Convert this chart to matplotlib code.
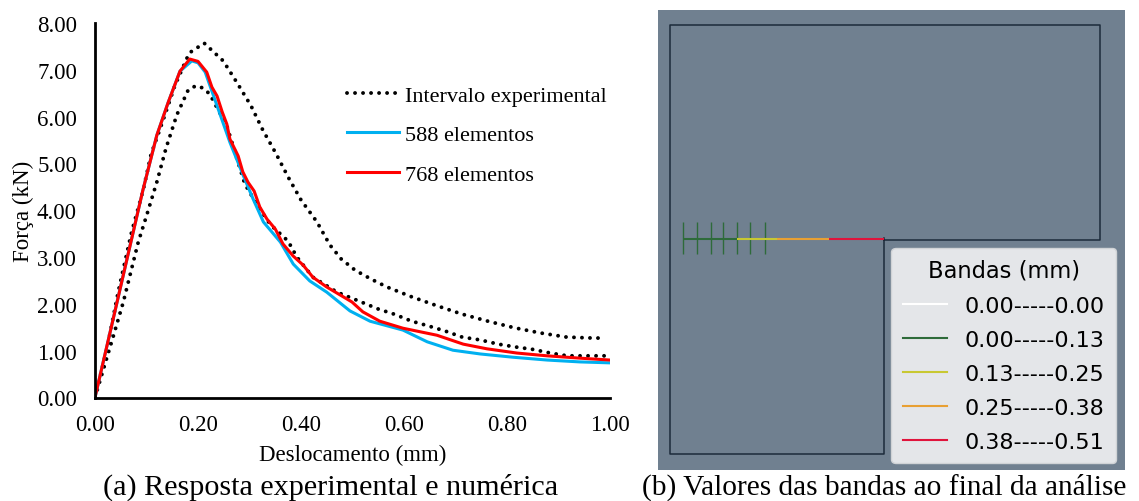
import matplotlib
matplotlib.use('Agg')
import matplotlib.pyplot as plt
import numpy as np

W, H = 1139, 502

# (a) curves
up_x = [0, .023, .045, .071, .094, .109, .133, .155, .183, .212, .249, .276, .303, .326, .351, .375, .40, .431, .456, .478, .505, .536, .567, .615, .664, .713, .763, .814, .864, .916, .967, .99]
up_y = [0, 1.03, 2.25, 3.53, 4.45, 5.2, 5.95, 6.66, 7.36, 7.57, 7.19, 6.72, 6.23, 5.71, 5.22, 4.71, 4.22, 3.75, 3.26, 2.96, 2.72, 2.53, 2.36, 2.15, 1.96, 1.78, 1.63, 1.49, 1.38, 1.29, 1.27, 1.27]
lo_x = [0, .0097, .035, .055, .084, .10, .12, .138, .159, .181, .196, .21, .223, .233, .256, .276, .291, .314, .34, .375, .392, .423, .47, .517, .55, .581, .615, .647, .68, .713, .748, .783, .816, .849, .884, .917, .951, .99]
lo_y = [0, .36, 1.29, 2.04, 3.32, 3.88, 4.6, 5.33, 6.04, 6.57, 6.66, 6.61, 6.48, 6.27, 5.8, 5.09, 4.56, 4.13, 3.7, 3.34, 3.0, 2.57, 2.25, 2.04, 1.89, 1.78, 1.63, 1.53, 1.42, 1.29, 1.23, 1.14, 1.08, 1.03, .95, .89, .89, .89]
e588_x = [0, .041, .068, .093, .12, .142, .165, .188, .2, .214, .23, .262, .288, .307, .327, .36, .385, .417, .45, .495, .534, .598, .645, .695, .748, .812, .878, .942, 1.0]
e588_y = [0, 1.95, 3.24, 4.43, 5.6, 6.3, 6.97, 7.19, 7.15, 6.95, 6.45, 5.45, 4.74, 4.24, 3.75, 3.32, 2.85, 2.49, 2.25, 1.85, 1.63, 1.44, 1.19, 1.01, .93, .86, .80, .76, .74]
e768_x = [0, .041, .068, .093, .12, .142, .165, .184, .2, .217, .227, .237, .247, .256, .262, .278, .287, .297, .309, .32, .334, .35, .365, .385, .404, .423, .45, .499, .52, .553, .598, .664, .715, .761, .819, .878, .942, 1.0]
e768_y = [0, 1.95, 3.24, 4.43, 5.6, 6.3, 6.97, 7.23, 7.18, 6.95, 6.63, 6.44, 6.1, 5.84, 5.52, 5.16, 4.82, 4.6, 4.41, 4.07, 3.81, 3.6, 3.28, 3.02, 2.83, 2.57, 2.36, 2.04, 1.83, 1.63, 1.48, 1.33, 1.14, 1.04, .95, .89, .84, .80]
x_ticks = [0, .2, .4, .6, .8, 1.0]
y_ticks = [0, 1, 2, 3, 4, 5, 6, 7, 8]

# (b) mesh drawing, in panel pixels
outline_x = [884, 884, 670, 670, 1100, 1100, 884]
outline_y = [239, 455, 455, 26, 26, 241, 241]
crack_x = [683, 737, 777, 829, 884]
crack_y = [239.5, 239.5, 239.5, 239.5, 239.5]
crack_ticks = [683, 697, 711, 723, 737, 750, 765]
band_labels = ['0.00-----0.00', '0.00-----0.13', '0.13-----0.25', '0.25-----0.38', '0.38-----0.51']
band_colors = ['white', '#2e6b3a', '#c8c832', '#e8a033', '#e0143c']

fig = plt.figure(figsize=(W / 100, H / 100), dpi=100)
serif = 'Liberation Serif'
fs = 16.5

ax = fig.add_axes([95 / W, 1 - 398.5 / H, 515 / W, 374.5 / H])
dots = dict(color='black', lw=2.8, ls=(0, (0.01, 2.05)), dash_capstyle='round')
ax.plot(up_x, up_y, label='Intervalo experimental', **dots)
ax.plot(lo_x, lo_y, **dots)
ax.plot(e588_x, e588_y, color='#00b0f0', lw=2.2, label='588 elementos')
ax.plot(e768_x, e768_y, color='#ff0000', lw=2.2, label='768 elementos')
ax.set_xlim(0, 1)
ax.set_ylim(0, 8)
ax.set_xticks(x_ticks, [f'{v:.2f}' for v in x_ticks], family=serif, fontsize=fs)
ax.set_yticks(y_ticks, [f'{v:.2f}' for v in y_ticks], family=serif, fontsize=fs)
ax.tick_params(axis='x', length=0, pad=12)
ax.tick_params(axis='y', length=0, pad=13)
ax.set_xlabel('Deslocamento (mm)', family=serif, fontsize=fs, labelpad=6)
ax.set_ylabel('Força (kN)', family=serif, fontsize=fs, labelpad=2)
for s in ['top', 'right']:
    ax.spines[s].set_visible(False)
for s in ['left', 'bottom']:
    ax.spines[s].set_linewidth(2)
ax.legend(loc='upper left', bbox_to_anchor=(0.489, 0.834), frameon=False, prop={'family': serif, 'size': 16},
          handlelength=2.34, handletextpad=0.27, labelspacing=0.85, borderpad=0, borderaxespad=0)

# panel b
bx = fig.add_axes([658 / W, 1 - 471 / H, 467 / W, 460 / H])
bx.set_facecolor('#708090')
bx.set_xlim(658, 1125)
bx.set_ylim(471, 11)
bx.set_xticks([])
bx.set_yticks([])
for s in bx.spines.values():
    s.set_visible(False)
bx.plot(outline_x, outline_y, color='#1c2b3a', lw=1.1)
bx.vlines(crack_ticks, 223, 255, color=band_colors[1], lw=1)
for i in range(4):
    bx.plot(crack_x[i:i + 2], crack_y[i:i + 2], color=band_colors[i + 1], lw=1.5, solid_capstyle='butt')
for lab, col in zip(band_labels, band_colors):
    bx.plot([], [], color=col, lw=1.5, label=lab)
leg = bx.legend(title='Bandas (mm)', loc='lower right', bbox_to_anchor=(458 / 467, 7 / 460),
                fontsize=16, title_fontsize=16.3, facecolor='#e4e6e9', edgecolor='#d0d3d6', framealpha=1,
                borderaxespad=0, borderpad=0.5, handlelength=2.0, labelspacing=0.63, handletextpad=0.8)

fig.text(330.5 / W, 1 - 487 / H, '(a) Resposta experimental e numérica', family=serif, fontsize=21.7, ha='center', va='center')
fig.text(884.5 / W, 1 - 487 / H, '(b) Valores das bandas ao final da análise', family=serif, fontsize=21.2, ha='center', va='center')

fig.savefig('out.png', dpi=100)
